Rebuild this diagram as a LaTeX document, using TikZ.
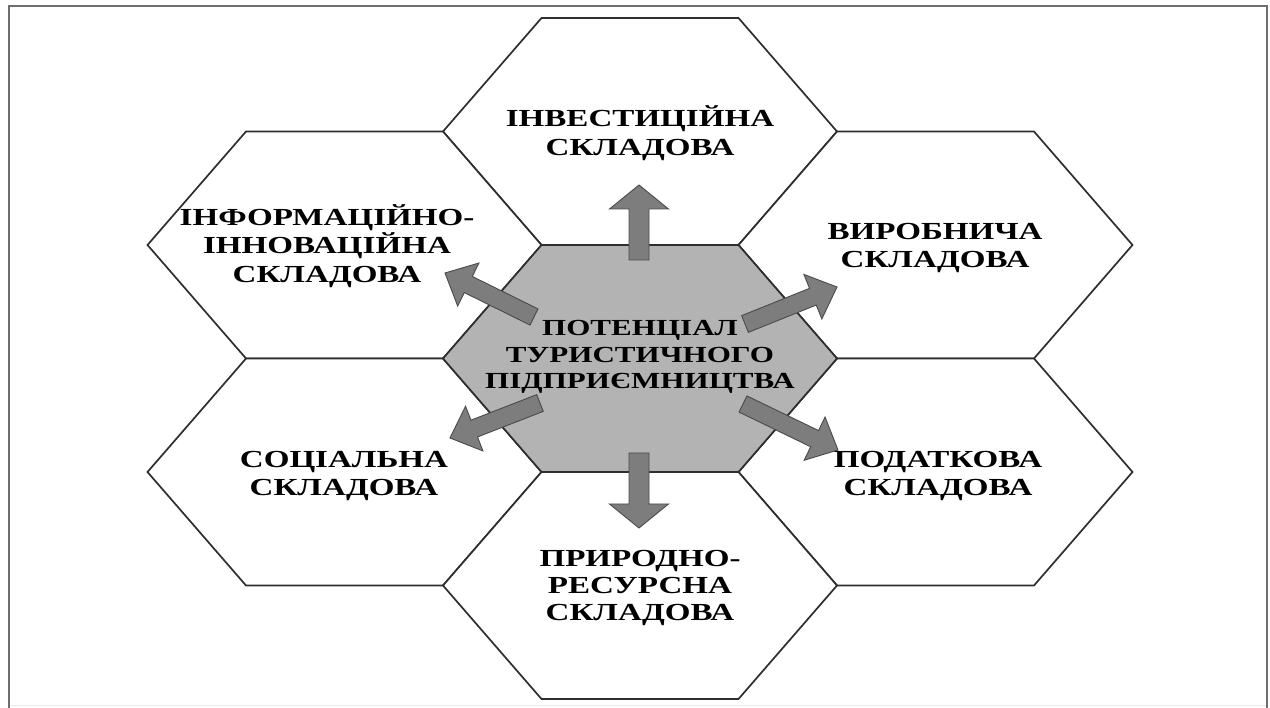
\documentclass[tikz,border=0pt]{standalone}
\usepackage{fontspec}
\setmainfont{Liberation Serif}[FakeStretch=1.35]
\usetikzlibrary{calc}

\definecolor{framegray}{HTML}{6E6E6E}
\definecolor{hexline}{HTML}{2E2E2E}
\definecolor{corefill}{HTML}{B3B3B3}
\definecolor{arrowfill}{HTML}{7D7D7D}
\definecolor{arrowline}{HTML}{4A4A4A}

\tikzset{
  hexcell/.style={draw=hexline, line width=1.7pt, fill=white, line join=miter},
  corecell/.style={hexcell, fill=corefill},
  celltext/.style={font=\fontsize{24.5}{28.5}\selectfont\bfseries, align=center, inner sep=0pt},
  coretext/.style={font=\fontsize{23}{26.5}\selectfont\bfseries, align=center, inner sep=0pt},
  blockarrow/.style={fill=arrowfill, draw=arrowline, line width=0.9pt, line join=miter}
}

% flat-topped hexagon: #1 style, #2 centre
\newcommand\hexagonat[2]{%
  \draw[#1] ($(#2)+(-197,0)$) -- ++(98.5,-113.5) -- ++(197,0) -- ++(98.5,113.5)
    -- ++(-98.5,113.5) -- ++(-197,0) -- cycle;}

% block arrow: #1 shaft half-width, #2 head half-width, #3 head length, #4 tail, #5 tip
\newcommand\blockarrowto[5]{%
  \draw[blockarrow]
    ($(#4)!#1!90:(#5)$)
    -- ($(#5)!#3!(#4)!#1!-90:(#4)$)
    -- ($(#5)!#3!(#4)!#2!-90:(#4)$)
    -- (#5)
    -- ($(#5)!#3!(#4)!#2!90:(#4)$)
    -- ($(#5)!#3!(#4)!#1!90:(#4)$)
    -- ($(#4)!#1!-90:(#5)$)
    -- cycle;}

\begin{document}
\begin{tikzpicture}[x=1pt, y=-1pt]
  \useasboundingbox (0,0) rectangle (1270,708);

  % outer frame
  \draw[black!8, line width=1pt] (9,705) -- (1267,705);
  \draw[framegray, line width=2pt] (9,708) -- (9,6) -- (1267,6) -- (1267,708);

  % cell centres of the honeycomb
  \coordinate (cC)  at (640,358.5);
  \coordinate (cN)  at (640,131.5);
  \coordinate (cNW) at (344.5,245);
  \coordinate (cNE) at (935.5,245);
  \coordinate (cSW) at (344.5,472);
  \coordinate (cSE) at (935.5,472);
  \coordinate (cS)  at (640,585.5);

  \hexagonat{hexcell}{cN}
  \hexagonat{hexcell}{cNW}
  \hexagonat{hexcell}{cNE}
  \hexagonat{hexcell}{cSW}
  \hexagonat{hexcell}{cSE}
  \hexagonat{hexcell}{cS}
  \hexagonat{corecell}{cC}

  % arrow ends
  \coordinate (tN)  at (639,260);   \coordinate (hN)  at (639,185);
  \coordinate (tS)  at (639,453);   \coordinate (hS)  at (639,528);
  \coordinate (tNW) at (534,317);   \coordinate (hNW) at (445,273);
  \coordinate (tNE) at (745,324);   \coordinate (hNE) at (837,287);
  \coordinate (tSW) at (540,403);   \coordinate (hSW) at (450,438);
  \coordinate (tSE) at (743,404);   \coordinate (hSE) at (838,450);

  \blockarrowto{10pt}{29.5pt}{24pt}{tN}{hN}
  \blockarrowto{10pt}{29.5pt}{24pt}{tS}{hS}
  \blockarrowto{9pt}{24pt}{26pt}{tNW}{hNW}
  \blockarrowto{9pt}{24pt}{26pt}{tNE}{hNE}
  \blockarrowto{9pt}{24pt}{26pt}{tSW}{hSW}
  \blockarrowto{9pt}{24pt}{26pt}{tSE}{hSE}

  % labels
  \node[coretext] (core) at (640,357) {ПОТЕНЦІАЛ\\ТУРИСТИЧНОГО\\ПІДПРИЄМНИЦТВА};
  \node[celltext] (invest) at (640,133) {ІНВЕСТИЦІЙНА\\СКЛАДОВА};
  \node[celltext] (info) at (327,246) {ІНФОРМАЦІЙНО-\\ІННОВАЦІЙНА\\СКЛАДОВА};
  \node[celltext] (prod) at (935,248) {ВИРОБНИЧА\\СКЛАДОВА};
  \node[celltext] (social) at (344,476) {СОЦІАЛЬНА\\СКЛАДОВА};
  \node[celltext] (tax) at (938,476) {ПОДАТКОВА\\СКЛАДОВА};
  \node[celltext, font=\fontsize{24.5}{27}\selectfont\bfseries] (nature) at (640,588)
    {ПРИРОДНО-\\РЕСУРСНА\\СКЛАДОВА};
\end{tikzpicture}
\end{document}
